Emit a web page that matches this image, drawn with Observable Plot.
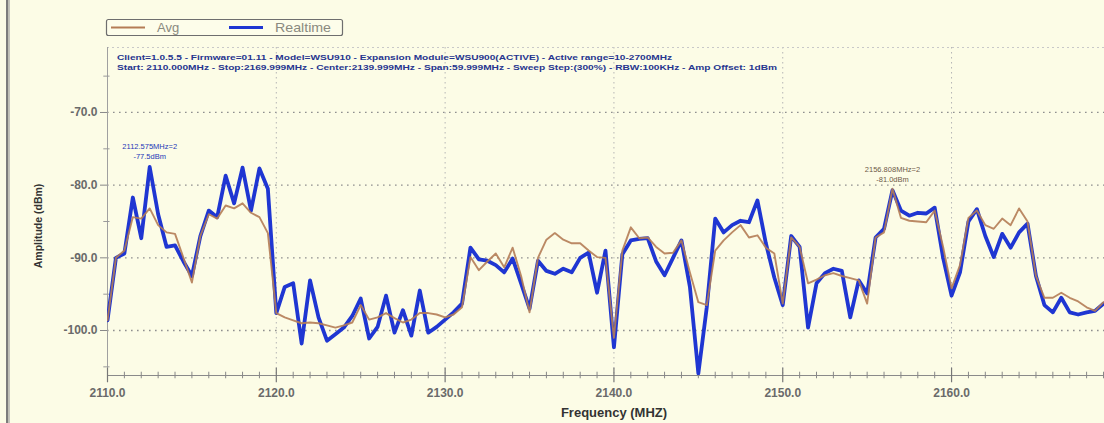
<!DOCTYPE html>
<html>
<head>
<meta charset="utf-8">
<script src="https://cdn.jsdelivr.net/npm/d3@7"></script>
<script src="https://cdn.jsdelivr.net/npm/@observablehq/plot@0.6"></script>
<style>
  html, body { margin: 0; padding: 0; background: #fcfce6; }
  #wrap { position: relative; width: 1104px; height: 423px; overflow: hidden; background: #fcfce6; font-family: "Liberation Sans", Arial, sans-serif; }
  #wrap > svg { position: absolute; left: 0; top: 0; }
  #overlay { pointer-events: none; }
</style>
</head>
<body>
<div id="wrap"></div>
<script>
// ---- data ----
const freqMHz = [
  2110.0,2110.5,2111.0,2111.5,2112.0,2112.5,2113.0,2113.5,2114.0,2114.5,
  2115.0,2115.5,2116.0,2116.5,2117.0,2117.5,2118.0,2118.5,2119.0,2119.5,
  2120.0,2120.5,2121.0,2121.5,2122.0,2122.5,2123.0,2123.5,2124.0,2124.5,
  2125.0,2125.5,2126.0,2126.5,2127.0,2127.5,2128.0,2128.5,2129.0,2129.5,
  2130.0,2130.5,2131.0,2131.5,2132.0,2132.5,2133.0,2133.5,2134.0,2134.5,
  2135.0,2135.5,2136.0,2136.5,2137.0,2137.5,2138.0,2138.5,2139.0,2139.5,
  2140.0,2140.5,2141.0,2141.5,2142.0,2142.5,2143.0,2143.5,2144.0,2144.5,
  2145.0,2145.5,2146.0,2146.5,2147.0,2147.5,2148.0,2148.5,2149.0,2149.5,
  2150.0,2150.5,2151.0,2151.5,2152.0,2152.5,2153.0,2153.5,2154.0,2154.5,
  2155.0,2155.5,2156.0,2156.5,2157.0,2157.5,2158.0,2158.5,2159.0,2159.5,
  2160.0,2160.5,2161.0,2161.5,2162.0,2162.5,2163.0,2163.5,2164.0,2164.5,
  2165.0,2165.5,2166.0,2166.5,2167.0,2167.5,2168.0,2168.5,2169.0,2169.5
];
const realtime = [
  -98.6,-90,-89.4,-81.7,-87.3,-77.5,-84,-88.5,-88.3,-90.5,
  -92.5,-87,-83.5,-84.4,-78.7,-82.5,-77.6,-83.5,-77.7,-80.5,
  -97.6,-94,-93.5,-101.8,-93.1,-98.2,-101.4,-100.5,-99.6,-98,
  -95.6,-101.1,-99.5,-95.2,-100.3,-97.2,-100.7,-94.5,-100.3,-99.5,
  -98.5,-97.5,-96.3,-88.6,-90.2,-90.4,-91,-92,-90.1,-93.5,
  -97,-90.4,-91.8,-92.2,-91.5,-92,-90,-89.3,-94.8,-89,
  -102.3,-89.5,-87.6,-87.4,-87.3,-90.5,-92.4,-90,-87.6,-94,
  -105.9,-96.8,-84.6,-86.5,-85.5,-84.9,-85.1,-82.1,-88,-92.7,
  -96.5,-87,-88.5,-99.6,-93.5,-92.1,-91.5,-91.8,-98.2,-93.1,
  -94.9,-87.2,-86,-80.7,-83.5,-84.2,-83.8,-83.9,-83.1,-90,
  -95.2,-92,-85,-83.3,-87,-89.9,-86.7,-88.6,-86.5,-85.3,
  -92.5,-96.5,-97.5,-95.5,-97.5,-97.8,-97.5,-97.3,-96.3,-96.5
];
const avg = [
  -98.6,-90,-89,-84.4,-84.6,-83.2,-85.5,-86.5,-86.7,-90,
  -93.4,-87,-84,-84.6,-82.8,-83.2,-82.5,-83.8,-84.4,-86.6,
  -97.6,-98.2,-98.6,-99,-98.9,-99,-99.3,-99.6,-99.3,-98.9,
  -96.5,-98.5,-98.2,-97.6,-98.3,-98.9,-98.5,-97.6,-97.6,-97.8,
  -98.2,-97.8,-96.8,-89.9,-91.7,-90.5,-89.4,-91.3,-88.6,-92.5,
  -97.5,-90,-87.5,-86.6,-87.5,-88,-88,-89,-89.9,-90,
  -101,-89,-85.8,-87.3,-87.2,-88.5,-89.4,-89.3,-87.6,-92,
  -96.1,-96.5,-89,-87.6,-86.5,-85.5,-87.2,-86.9,-88.6,-89.4,
  -96.3,-87.2,-88.5,-93.5,-93,-92.4,-92.1,-92.5,-92.8,-93.1,
  -96.3,-87.2,-86.5,-80.5,-84.5,-84.9,-85,-85.1,-83.5,-88.5,
  -94.2,-91,-84.5,-83.5,-85.5,-86,-84.6,-85.5,-83.2,-85,
  -92.5,-95.5,-95.5,-94.8,-95.5,-96,-96.8,-97.3,-96.1,-96.3
];
const xMajorTicks = [2110, 2120, 2130, 2140, 2150, 2160];
const xGridTicks = [2120, 2130, 2140, 2150, 2160];
const xMinorTicks = [2111,2112,2113,2114,2115,2116,2117,2118,2119,2121,2122,2123,2124,2125,2126,2127,2128,2129,
  2131,2132,2133,2134,2135,2136,2137,2138,2139,2141,2142,2143,2144,2145,2146,2147,2148,2149,
  2151,2152,2153,2154,2155,2156,2157,2158,2159,2161,2162,2163,2164,2165,2166,2167,2168,2169];
const yMajorTicks = [-100, -90, -80, -70];
const yMinorTicks = [-105, -95, -85, -75, -65];
const markerFreq = [2112.5, 2156.5];
const markerAmp = [-77.5, -80.7];
const markerText = ["2112.575MHz=2\n-77.5dBm", "2156.808MHz=2\n-81.0dBm"];
const markerColor = ["#2438b8", "#6e5a48"];
const seriesNames = ["Avg", "Realtime"];
const infoLines = [
  "Client=1.0.5.5 - Firmware=01.11 - Model=WSU910 - Expansion Module=WSU900(ACTIVE) - Active range=10-2700MHz",
  "Start: 2110.000MHz - Stop:2169.999MHz - Center:2139.999MHz - Span:59.999MHz - Sweep Step:(300%) - RBW:100KHz - Amp Offset: 1dBm"
];

// ---- build ----
const colAvg = "#b47c55", colRt = "#1f36d2";
const rows = freqMHz.map((f, i) => ({f, rt: realtime[i], avg: avg[i]}));
const markers = markerFreq.map((f, i) => ({f, v: markerAmp[i], t: markerText[i], c: markerColor[i]}));
const xDomain = [2110, 2169.06];
const yDomain = [-106.19, -61.06];
const yBot = yDomain[0], yTop = yDomain[1];
const font = "'Liberation Sans', Arial, sans-serif";

const chart = Plot.plot({
  width: 1104, height: 423,
  marginLeft: 107, marginRight: 0, marginTop: 47, marginBottom: 48,
  x: {domain: xDomain},
  y: {domain: yDomain},
  style: {background: "transparent", fontFamily: font, overflow: "hidden"},
  marks: [
    Plot.gridY(yMajorTicks, {stroke: "#8f8f8f", strokeOpacity: 1, strokeWidth: 1.3, strokeDasharray: "1.6,4.4"}),
    Plot.gridX(xGridTicks, {stroke: "#b5b5b5", strokeOpacity: 1, strokeDasharray: "1.5,3.5"}),
    Plot.ruleY([yTop], {stroke: "#c8c8c8", strokeDasharray: "2,3"}),
    Plot.ruleY([yBot], {stroke: "#8a8a8a", strokeWidth: 1.2}),
    Plot.ruleX([xDomain[0]], {stroke: "#a0a0a0"}),
    Plot.ruleX(xMinorTicks, {y1: yBot - 0.45, y2: yBot + 0.45, stroke: "#888"}),
    Plot.ruleX(xMajorTicks, {y1: yBot - 1.0, y2: yBot + 1.0, stroke: "#777", strokeWidth: 1.2}),
    Plot.ruleY(yMinorTicks, {x1: xDomain[0] - 0.22, x2: xDomain[0] + 0.15, stroke: "#999"}),
    Plot.axisY(yMajorTicks, {tickSize: 7, tickPadding: 3, tickFormat: d => d.toFixed(1), fontSize: 12, fontWeight: "bold", fill: "#6a6a6a", stroke: "#888", label: null}),
    Plot.axisX(xMajorTicks, {tickSize: 0, tickPadding: 13, tickFormat: d => d.toFixed(1), fontSize: 12, fontWeight: "bold", fill: "#6a6a6a", label: null}),
    Plot.line(rows, {x: "f", y: "rt", stroke: colRt, strokeWidth: 3.8, strokeLinejoin: "round", clip: true}),
    Plot.line(rows, {x: "f", y: "avg", stroke: colAvg, strokeWidth: 1.9, strokeOpacity: 0.9, strokeLinejoin: "round", clip: true}),
    Plot.text(markers, {x: "f", y: "v", text: "t", fill: "c", dy: -8, lineAnchor: "bottom", fontSize: 7.5, lineHeight: 1.35})
  ]
});
const wrap = document.getElementById("wrap");
wrap.appendChild(chart);

// ---- overlay: frame bar, legend, info text, axis titles ----
const ov = d3.select(wrap).append("svg").attr("id", "overlay")
  .attr("width", 1104).attr("height", 423).style("font-family", font);

ov.append("rect").attr("x", 6).attr("y", 0).attr("width", 2.5).attr("height", 423).attr("fill", "#7c7c7c");
ov.append("rect").attr("x", 8.5).attr("y", 0).attr("width", 1.5).attr("height", 423).attr("fill", "#c4c4bc");

const lg = ov.append("g");
lg.append("rect").attr("x", 106.5).attr("y", 19.5).attr("width", 236).attr("height", 16).attr("rx", 2)
  .attr("fill", "#fdfdea").attr("stroke", "#6e6e6e").attr("stroke-width", 1.2);
lg.append("line").attr("x1", 111).attr("x2", 145).attr("y1", 27.5).attr("y2", 27.5).attr("stroke", colAvg).attr("stroke-width", 2.2);
lg.append("text").attr("x", 157).attr("y", 32).attr("font-size", 13).attr("fill", "#8a8a80").text(seriesNames[0]);
lg.append("line").attr("x1", 229).attr("x2", 263).attr("y1", 27.5).attr("y2", 27.5).attr("stroke", colRt).attr("stroke-width", 3);
lg.append("text").attr("x", 275).attr("y", 32).attr("font-size", 13).attr("fill", "#8a8a80")
  .attr("textLength", 56).attr("lengthAdjust", "spacingAndGlyphs").text(seriesNames[1]);

const infoW = [555, 660];
infoLines.forEach((t, i) => {
  ov.append("text").attr("x", 117).attr("y", 60 + i * 9.5).attr("font-size", 8).attr("font-weight", "bold")
    .attr("fill", "#26358f").attr("textLength", infoW[i]).attr("lengthAdjust", "spacingAndGlyphs").text(t);
});

ov.append("text").attr("transform", "translate(42,226) rotate(-90)").attr("text-anchor", "middle")
  .attr("font-size", 10.5).attr("font-weight", "bold").attr("fill", "#333").text("Amplitude (dBm)");
ov.append("text").attr("x", 614).attr("y", 417).attr("text-anchor", "middle")
  .attr("font-size", 13).attr("font-weight", "bold").attr("fill", "#333").text("Frequency (MHZ)");
</script>
</body>
</html>
